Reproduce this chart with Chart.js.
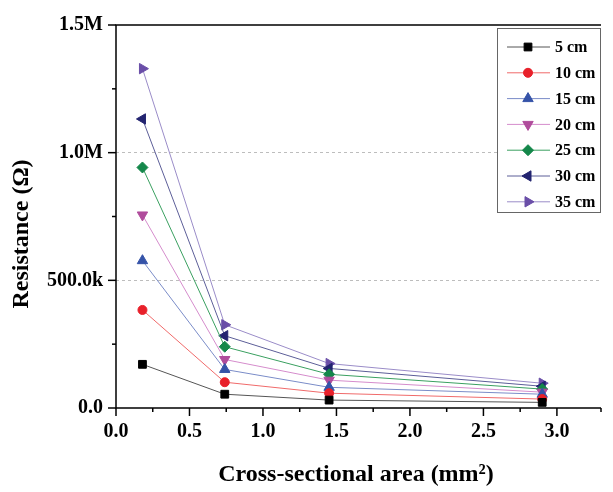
<!DOCTYPE html>
<html>
<head>
<meta charset="utf-8">
<script src="https://cdn.jsdelivr.net/npm/chart.js@4.4.0/dist/chart.umd.min.js"></script>
<style>
  html, body { margin: 0; padding: 0; background: #fff; }
  #wrap { width: 613px; height: 492px; }
</style>
</head>
<body>
<div id="wrap"><canvas id="chart" width="613" height="492"></canvas></div>
<script>
const areas = [0.18, 0.74, 1.45, 2.9];
const lengths = ["5 cm", "10 cm", "15 cm", "20 cm", "25 cm", "30 cm", "35 cm"];
const r5 = [171000, 54000, 31000, 22000];
const r10 = [384000, 101000, 58000, 35000];
const r15 = [577000, 151000, 81000, 54000];
const r20 = [756000, 190000, 109000, 62000];
const r25 = [942000, 240000, 132000, 74000];
const r30 = [1132000, 283000, 155000, 85000];
const r35 = [1329000, 326000, 174000, 97000];
const yTickLabels = { 0: "0.0", 500000: "500.0k", 1000000: "1.0M", 1500000: "1.5M" };

const seriesValues = [r5, r10, r15, r20, r25, r30, r35];
const markerColors = ["#000000", "#e8202a", "#3553a8", "#b04c9c", "#14874a", "#232470", "#6a4ea8"];
const lineColors = ["#555555", "#f06a6a", "#7a8cc8", "#d58ccc", "#3aa060", "#5c5e98", "#9a8cc8"];
const shapes = ["rect", "circle", "triangle", "triangle", "rectRot", "triangle", "triangle"];
const rotations = [0, 0, 0, 180, 0, -90, 90];
const radii = [5.5, 4.5, 6, 6, 5.5, 6, 6];

const serif = "'Liberation Serif', 'Times New Roman', serif";

const datasets = lengths.map((label, i) => ({
  label: label,
  data: areas.map((x, j) => ({ x: x, y: seriesValues[i][j] })),
  borderColor: lineColors[i],
  borderWidth: 1,
  backgroundColor: markerColors[i],
  pointBackgroundColor: markerColors[i],
  pointBorderColor: markerColors[i],
  pointBorderWidth: 1,
  pointStyle: shapes[i],
  pointRotation: rotations[i],
  pointRadius: radii[i],
  tension: 0,
}));

const isMajorX = (v) => Math.abs(v / 0.5 - Math.round(v / 0.5)) < 1e-6;

// ticks, frame, titles and legend
const decorations = {
  id: "decorations",
  afterDraw(chart) {
    const ctx = chart.ctx;
    const area = chart.chartArea;
    const xs = chart.scales.x;
    const ys = chart.scales.y;
    ctx.save();
    ctx.setLineDash([]);
    ctx.strokeStyle = "#000";
    ctx.lineWidth = 1.5;
    ctx.beginPath();
    ctx.moveTo(area.right, area.top);
    ctx.lineTo(area.left, area.top);
    ctx.lineTo(area.left, area.bottom);
    ctx.lineTo(area.right, area.bottom);
    ctx.stroke();

    xs.ticks.forEach((t) => {
      const px = xs.getPixelForValue(t.value);
      ctx.beginPath();
      ctx.moveTo(px, area.bottom);
      ctx.lineTo(px, area.bottom + (isMajorX(t.value) ? 8 : 4));
      ctx.stroke();
    });
    ys.ticks.forEach((t) => {
      const py = ys.getPixelForValue(t.value);
      const major = t.value % 500000 === 0;
      ctx.beginPath();
      ctx.moveTo(area.left, py);
      ctx.lineTo(area.left - (major ? 8 : 4), py);
      ctx.stroke();
    });

    ctx.fillStyle = "#000";
    ctx.font = "bold 24px " + serif;
    ctx.textAlign = "center";
    ctx.textBaseline = "middle";
    ctx.fillText("Cross-sectional area (mm²)", 356, 475);
    ctx.save();
    ctx.translate(22, 234);
    ctx.rotate(-Math.PI / 2);
    ctx.fillText("Resistance (Ω)", 0, 0);
    ctx.restore();

    // legend
    const bx = 497, by = 28, bw = 103, bh = 184;
    ctx.fillStyle = "#fff";
    ctx.fillRect(bx, by, bw, bh);
    ctx.strokeStyle = "#666";
    ctx.lineWidth = 1;
    ctx.strokeRect(bx + 0.5, by + 0.5, bw, bh);
    ctx.font = "bold 16px " + serif;
    ctx.textAlign = "left";
    chart.data.datasets.forEach((ds, i) => {
      const cy = 47 + i * 25.8;
      ctx.strokeStyle = ds.borderColor;
      ctx.lineWidth = 1;
      ctx.beginPath();
      ctx.moveTo(507, cy);
      ctx.lineTo(550, cy);
      ctx.stroke();
      ctx.fillStyle = ds.pointBackgroundColor;
      ctx.strokeStyle = ds.pointBorderColor;
      Chart.helpers.drawPoint(ctx, {
        pointStyle: ds.pointStyle,
        rotation: ds.pointRotation,
        radius: ds.pointRadius,
        borderWidth: 1,
      }, 528, cy);
      ctx.fillStyle = "#000";
      ctx.fillText(ds.label, 555, cy + 1);
    });
    ctx.restore();
  },
};

const chart = new Chart(document.getElementById("chart"), {
  type: "line",
  data: { datasets: datasets },
  options: {
    responsive: false,
    animation: false,
    layout: { padding: { top: 20, right: 2, left: 0, bottom: 0 } },
    plugins: { legend: { display: false }, tooltip: { enabled: false } },
    scales: {
      x: {
        type: "linear",
        min: 0,
        max: 3.3,
        afterFit: (s) => { s.height = 84; },
        border: { display: false },
        grid: { display: false, drawTicks: false },
        ticks: {
          stepSize: 0.25,
          autoSkip: false,
          maxRotation: 0,
          padding: 12,
          color: "#000",
          font: { family: serif, size: 20, weight: "bold" },
          callback: (v) => (isMajorX(v) ? v.toFixed(1) : ""),
        },
      },
      y: {
        type: "linear",
        min: 0,
        max: 1500000,
        afterFit: (s) => { s.width = 116; },
        border: { display: false, dash: [3, 3] },
        grid: {
          display: true,
          drawTicks: false,
          color: (c) => (c.tick && (c.tick.value === 500000 || c.tick.value === 1000000) ? "#bdbdbd" : "transparent"),
          lineWidth: 1,
        },
        ticks: {
          stepSize: 250000,
          autoSkip: false,
          padding: 13,
          color: "#000",
          font: { family: serif, size: 20, weight: "bold" },
          callback: (v) => (yTickLabels[v] !== undefined ? yTickLabels[v] : ""),
        },
      },
    },
  },
  plugins: [decorations],
});
</script>
</body>
</html>
